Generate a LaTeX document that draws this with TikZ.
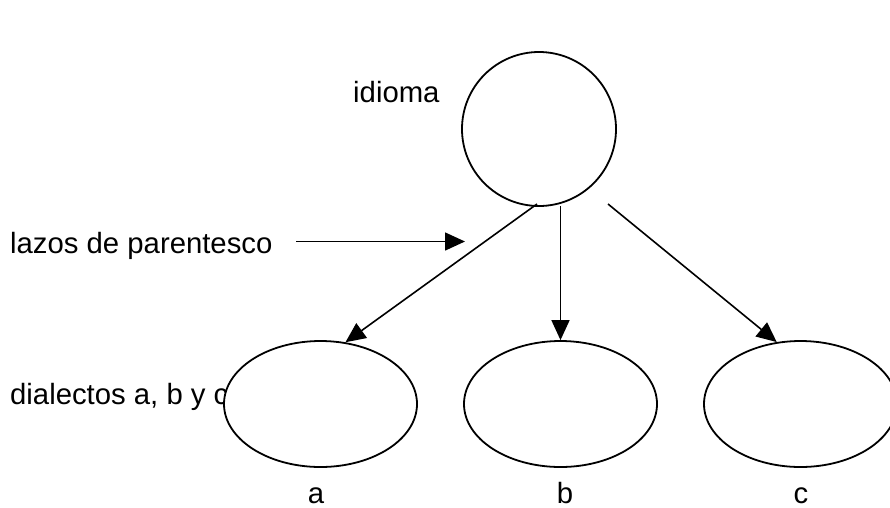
\documentclass[tikz,border=0pt]{standalone}
\usepackage{fontspec}
\setmainfont{Liberation Sans}
\usetikzlibrary{shapes.geometric,arrows.meta}
\begin{document}
\begin{tikzpicture}[x=1pt,y=-1pt,
  lbl/.style={inner sep=0pt,font=\fontsize{29.3}{34}\selectfont},
  circ/.style={circle,draw,line width=1.8pt,minimum size=154pt,inner sep=0pt},
  ell/.style={ellipse,draw,fill=white,line width=1.8pt,minimum width=193pt,minimum height=126pt,inner sep=0pt},
  conn/.style={line width=1.6pt,-{Triangle[length=20pt,width=18pt]}}]
\useasboundingbox (0,0) rectangle (890,507);
\fill[white] (0,0) rectangle (890,507);
% labels
\node[lbl,anchor=base west] (lidioma) at (353,102) {idioma};
\node[lbl,anchor=base west] (llazos) at (10,253) {lazos de parentesco};
\node[lbl,anchor=base west] (ldial) at (10,404) {dialectos a, b y c};
\node[lbl,anchor=base,text depth=0pt] (la) at (316,503) {a};
\node[lbl,anchor=base,text depth=0pt] (lb) at (565,503) {b};
\node[lbl,anchor=base,text depth=0pt] (lc) at (801,503) {c};
% shapes
\node[circ] (idioma) at (539,129) {};
\node[ell] (ea) at (320.5,404) {};
\node[ell] (eb) at (560.5,404) {};
\node[ell] (ec) at (800.5,404) {};
% connector start points
\coordinate (s1) at (537,204);
\coordinate (s2) at (560.5,206);
\coordinate (s3) at (608,204);
\coordinate (lz) at (296,241.5);
\coordinate (lzt) at (465,241.5);
% connectors
\draw[conn] (s1) -- (ea.68);
\draw[conn] (s2) -- (eb.north);
\draw[conn] (s3) -- (ec.111);
\draw[conn] (lz) -- (lzt);
\end{tikzpicture}
\end{document}
